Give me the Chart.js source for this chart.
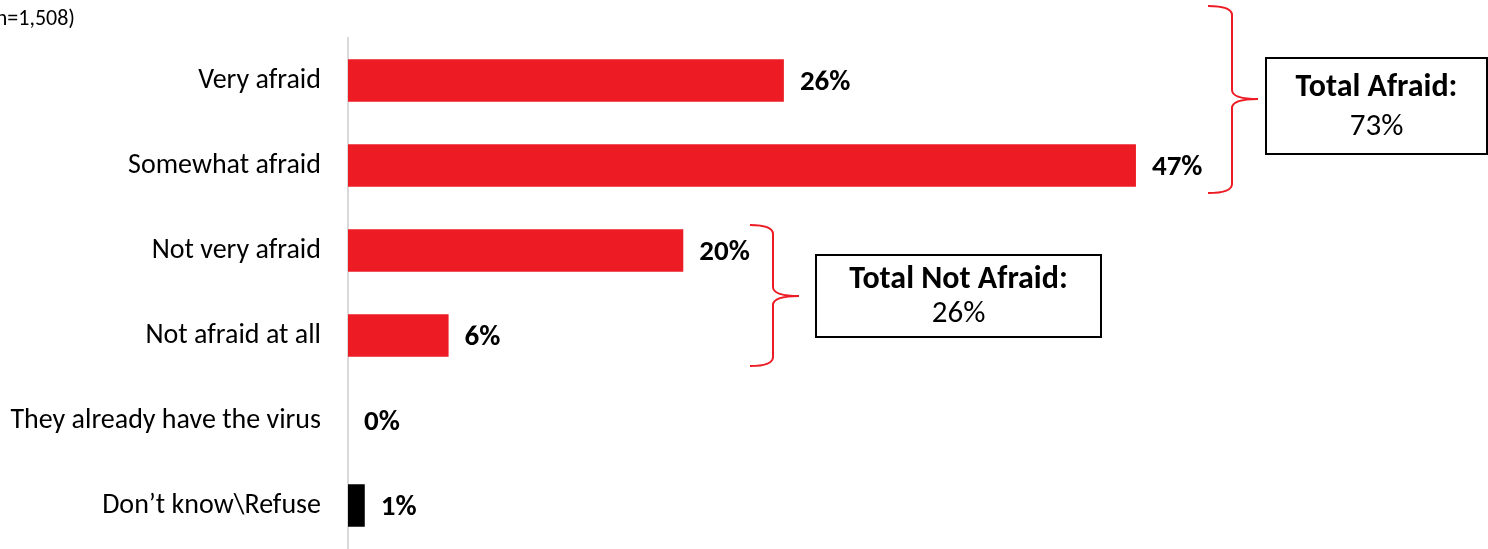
<!DOCTYPE html>
<html>
<head>
<meta charset="utf-8">
<script src="https://cdn.jsdelivr.net/npm/chart.js@4.4.1/dist/chart.umd.min.js"></script>
<style>
html,body{margin:0;padding:0;background:#fff;overflow:hidden;}
canvas{display:block;}
</style>
</head>
<body>
<canvas id="c" width="1488" height="549" style="width:1488px;height:549px"></canvas>
<script>
const categories = ['Very afraid','Somewhat afraid','Not very afraid','Not afraid at all','They already have the virus','Don\u2019t know\\Refuse'];
const values = [26, 47, 20, 6, 0, 1];
const barColors = ['#ED1C24','#ED1C24','#ED1C24','#ED1C24','#ED1C24','#000000'];
const groupTitles = ['Total Afraid:', 'Total Not Afraid:'];
const groupValues = [73, 26];
const noteText = '(n=1,508)';

const FONT = 'Carlito, Lato, sans-serif';

function brace(ctx, x1, xs, xm, top, mid, bottom, r) {
  ctx.beginPath();
  ctx.moveTo(x1, top);
  ctx.quadraticCurveTo(xs, top, xs, top + r);
  ctx.lineTo(xs, mid - r);
  ctx.quadraticCurveTo(xs, mid, xm, mid);
  ctx.moveTo(xm, mid);
  ctx.quadraticCurveTo(xs, mid, xs, mid + r);
  ctx.lineTo(xs, bottom - r);
  ctx.quadraticCurveTo(xs, bottom, x1, bottom);
  ctx.stroke();
}
function box(ctx, l, t, r, b, title, val) {
  ctx.save();
  ctx.strokeStyle = '#000';
  ctx.lineWidth = 2;
  ctx.strokeRect(l, t, r - l, b - t);
  ctx.fillStyle = '#000';
  ctx.textAlign = 'center';
  ctx.textBaseline = 'middle';
  const cx = (l + r) / 2;
  ctx.font = 'bold 32px ' + FONT;
  ctx.fillText(title, cx, t + (b - t) * 0.31);
  ctx.font = '31px ' + FONT;
  ctx.fillText(val + '%', cx, t + (b - t) * 0.72);
  ctx.restore();
}

const overlay = {
  id: 'overlay',
  afterDatasetsDraw(chart) {
    const ctx = chart.ctx;
    const meta = chart.getDatasetMeta(0);
    ctx.save();
    ctx.fillStyle = '#000';
    ctx.font = 'bold 29px ' + FONT;
    ctx.textAlign = 'left';
    ctx.textBaseline = 'middle';
    meta.data.forEach((bar, i) => {
      ctx.fillText(values[i] + '%', bar.x + 16, bar.y + 2);
    });
    ctx.font = '22px ' + FONT;
    ctx.textAlign = 'right';
    ctx.fillText(noteText, 75, 19);
    ctx.strokeStyle = '#ED1C24';
    ctx.lineWidth = 2;
    brace(ctx, 1208, 1232, 1258, 6, 99, 193, 9);
    brace(ctx, 750, 773, 799, 225, 296, 366, 9);
    ctx.restore();
    box(ctx, 1266, 58, 1487, 154, groupTitles[0], groupValues[0]);
    box(ctx, 816, 255, 1101, 337, groupTitles[1], groupValues[1]);
  }
};

new Chart(document.getElementById('c'), {
  type: 'bar',
  data: {
    labels: categories,
    datasets: [{
      data: values,
      backgroundColor: barColors,
      borderWidth: 0,
      categoryPercentage: 1,
      barPercentage: 0.5
    }]
  },
  options: {
    indexAxis: 'y',
    responsive: false,
    devicePixelRatio: 1,
    animation: false,
    layout: { padding: { top: 38, right: 0, bottom: 1, left: 0 } },
    plugins: { legend: { display: false }, tooltip: { enabled: false } },
    scales: {
      x: { display: false, min: 0, max: 68 },
      y: {
        afterFit(scale) { scale.width = 348; scale.paddingTop = 0; scale.paddingBottom = 0; },
        grid: { display: false, drawTicks: false },
        border: { display: true, color: '#D9D9D9', width: 2 },
        ticks: { color: '#000', padding: 27, font: { family: FONT, size: 28 } }
      }
    }
  },
  plugins: [overlay]
});
</script>
</body>
</html>
